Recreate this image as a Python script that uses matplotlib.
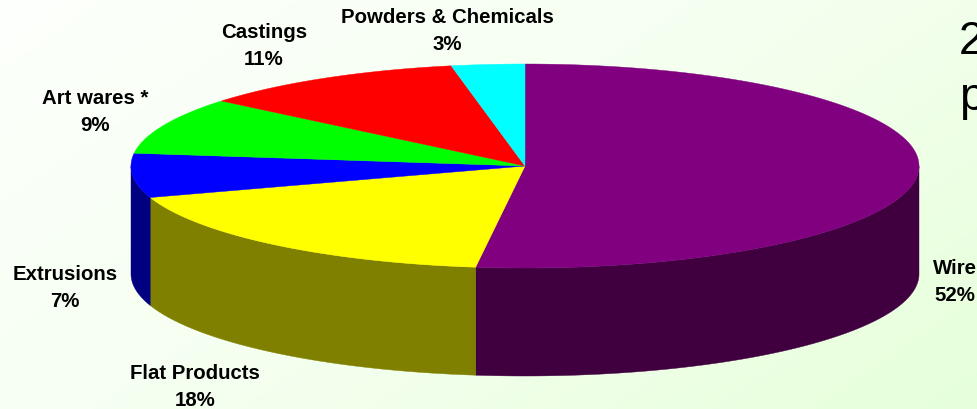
import numpy as np
import matplotlib
matplotlib.use("Agg")
import matplotlib.pyplot as plt
from matplotlib.colors import LinearSegmentedColormap
from matplotlib.patches import Polygon

plt.rcParams['font.family'] = ['Liberation Sans', 'DejaVu Sans']

categories = ["Wire", "Flat Products", "Extrusions", "Art wares *", "Castings", "Powders & Chemicals"]
shares = [52, 18, 7, 9, 11, 3]
top_colors = ["#800080", "#FFFF00", "#0000FF", "#00FF00", "#FF0000", "#00FFFF"]
side_colors = ["#400040", "#808000", "#000080", "#008000", "#800000", "#008080"]
label_xy = [(955, 282), (195, 387), (65, 288), (95, 112), (264, 46), (447, 31)]

W, H = 977, 409
CX, CY, RX, RY, DEPTH = 525, 166, 394, 102, 108


def rim(a0, a1, drop=0.0):
    """Rim points between two clockwise-from-top angles, in degrees."""
    t = np.radians(np.linspace(a0, a1, max(int(abs(a1 - a0) * 3), 2)))
    return np.column_stack([CX + RX * np.sin(t), CY - RY * np.cos(t) + drop])


fig = plt.figure(figsize=(W / 100, H / 100), dpi=100)
ax = fig.add_axes([0, 0, 1, 1])
ax.set_xlim(0, W)
ax.set_ylim(H, 0)
ax.axis("off")

# Diagonal wash from near-white at the upper left to pale green at the lower right
yy, xx = np.mgrid[0:1:205j, 0:1:490j]
wash = LinearSegmentedColormap.from_list("wash", ["#FDFFFC", "#F5FFF0", "#E6FFDA"])
ax.imshow(0.62 * xx + 0.38 * yy, cmap=wash, vmin=0, vmax=1,
          extent=(0, W, H, 0), aspect="auto", zorder=0)

edges = np.concatenate([[0], np.cumsum(shares)]) * 360 / np.sum(shares)

# Outer wall, only where a slice faces the viewer
for a0, a1, c in zip(edges[:-1], edges[1:], side_colors):
    lo, hi = max(a0, 90), min(a1, 270)
    if hi > lo:
        pts = np.vstack([rim(lo, hi), rim(lo, hi, DEPTH)[::-1]])
        ax.add_patch(Polygon(pts, closed=True, fc=c, ec=c, lw=0.3, zorder=2))

# Top face
for a0, a1, c in zip(edges[:-1], edges[1:], top_colors):
    pts = np.vstack([[CX, CY], rim(a0, a1)])
    ax.add_patch(Polygon(pts, closed=True, fc=c, ec=c, lw=0.3, zorder=3))

for name, share, (x, y) in zip(categories, shares, label_xy):
    ax.text(x, y, f"{name}\n{share}%", ha="center", va="center", fontsize=14.7,
            fontweight="bold", color="#000000", linespacing=1.48, zorder=5)

# Slide text running past the right edge
ax.text(959, 54, "2", fontsize=33, color="#000000", ha="left", va="baseline", zorder=5)
ax.text(959, 110, "p", fontsize=33, color="#000000", ha="left", va="baseline", zorder=5)

fig.savefig("out.png", dpi=100)
